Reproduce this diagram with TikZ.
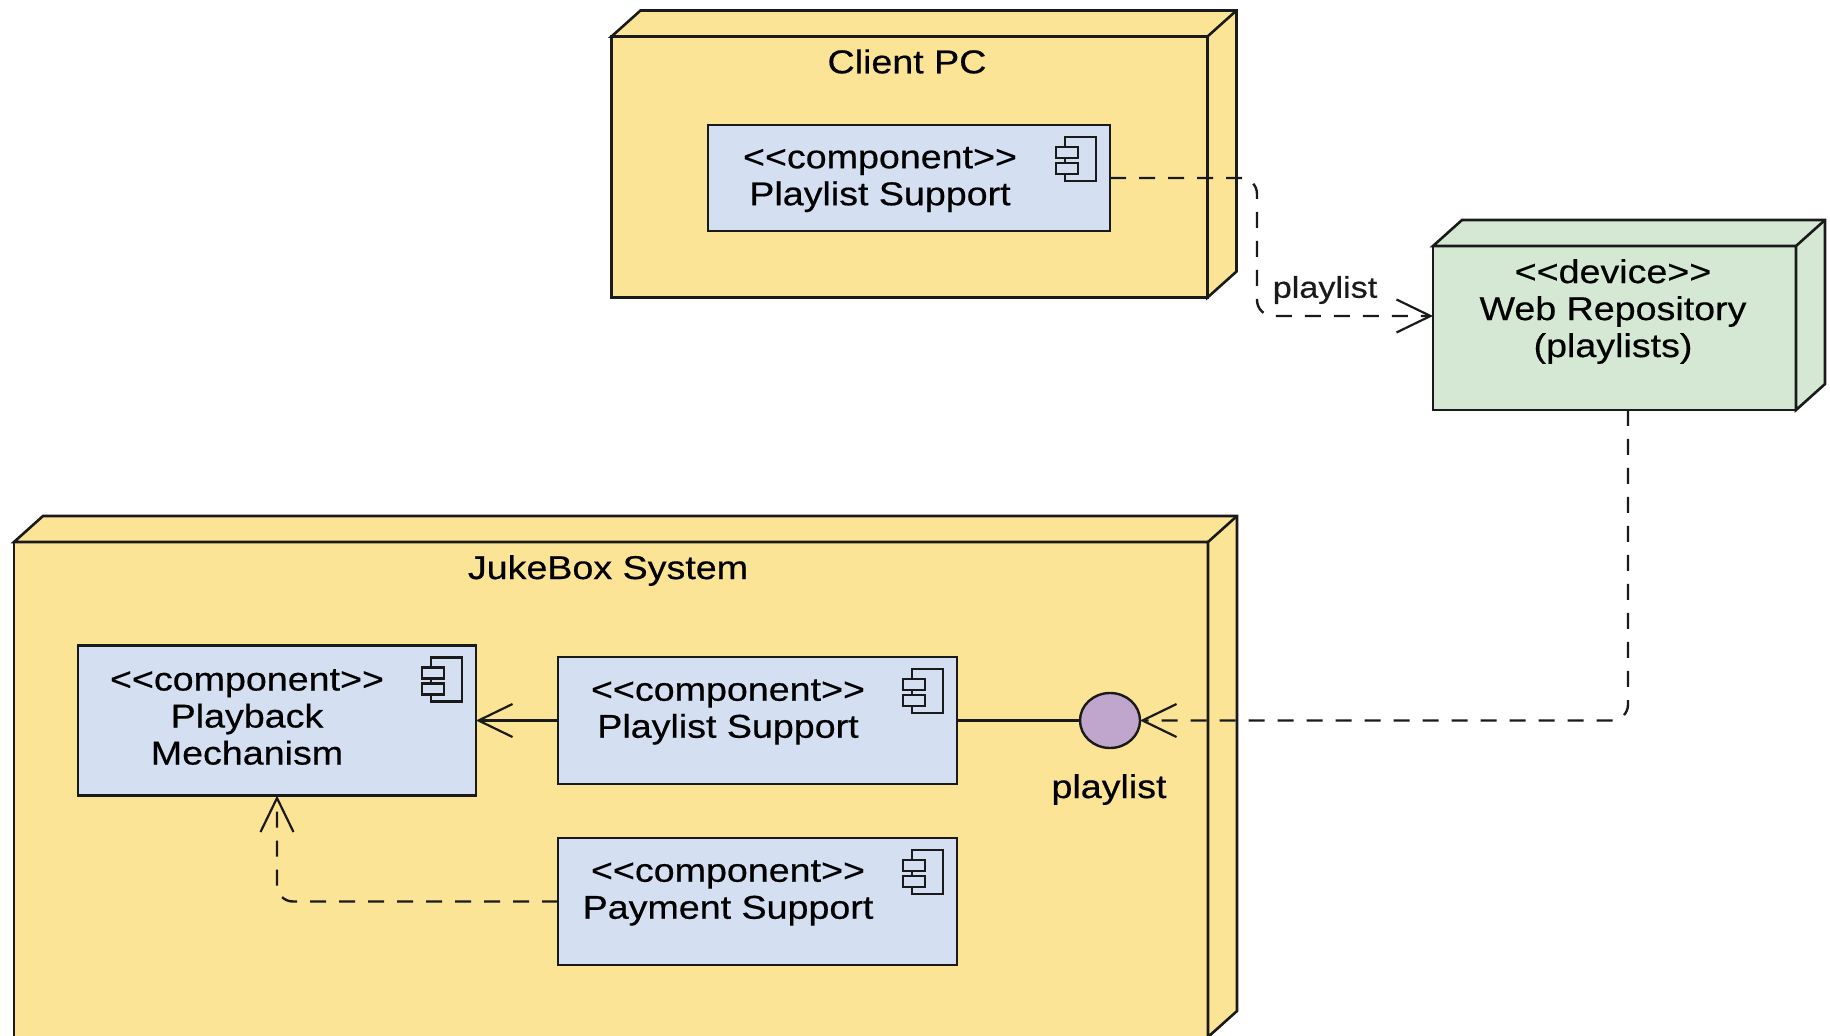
\documentclass[tikz,border=0pt]{standalone}
\usepackage{fontspec}
\setmainfont[FakeStretch=1.14,FakeBold=0.5]{Liberation Sans}
\usetikzlibrary{arrows.meta,calc,shapes.geometric}
\definecolor{nodeyellow}{HTML}{FCE496}
\definecolor{compblue}{HTML}{D4E0F2}
\definecolor{devgreen}{HTML}{D5E8D4}
\definecolor{ifacepurple}{HTML}{C0A5CC}
\definecolor{inkline}{HTML}{1A1A1A}
\tikzset{
  front/.style={draw=inkline,line width=1.3pt,rectangle,inner sep=0pt,outer sep=0pt},
  shell/.style={draw=inkline,line width=1.3pt,line join=miter},
  comp/.style={draw=inkline,line width=1.3pt,fill=compblue,rectangle,inner sep=0pt,outer sep=0pt},
  txt/.style={inner sep=0pt,outer sep=0pt,align=center,text=black,font=\fontsize{16.5}{18.5}\selectfont},
  edgetxt/.style={inner sep=0pt,outer sep=0pt,text=inkline,font=\fontsize{15}{18}\selectfont},
  iconline/.style={draw=inkline,line width=1.1pt},
  barb/.tip={Straight Barb[length=17pt,width=16.5pt,line width=1.1pt]},
  conn/.style={draw=inkline,line width=1.2pt},
  dep/.style={conn,dashed,dash pattern=on 8pt off 6.5pt,rounded corners=8pt,-{barb}},
}
% three-dimensional shell of a UML node, from the front rectangle
\newcommand{\shellof}[2]{%
  \path[shell,fill=#2]
    (#1.north west) -- ++(29,-26) -- ($(#1.north east)+(29,-26)$)
    -- ($(#1.south east)+(29,-26)$) -- (#1.south east) -- (#1.north east) -- cycle;
  \draw[shell] (#1.north east) -- ++(29,-26);}
% component icon in the top right corner of a component box
\newcommand{\iconof}[1]{%
  \draw[iconline,fill=compblue] ($(#1.north east)+(-45,12)$) rectangle ($(#1.north east)+(-14,56)$);
  \draw[iconline,fill=compblue] ($(#1.north east)+(-54,22)$) rectangle ($(#1.north east)+(-32,33)$);
  \draw[iconline,fill=compblue] ($(#1.north east)+(-54,38)$) rectangle ($(#1.north east)+(-32,49)$);}
\begin{document}
\begin{tikzpicture}[x=0.5pt,y=-0.5pt]
\useasboundingbox (0,0) rectangle (1830,1036);

% Client PC
\node[front,fill=nodeyellow,minimum width=298pt,minimum height=130.5pt] (client) at (909.5,167) {};
\shellof{client}{nodeyellow}
\node[txt] (clientlbl) at (907,61.5) {Client PC};
\node[comp,minimum width=201pt,minimum height=53pt] (cps) at (909,178) {};
\iconof{cps}
\node[txt] (cpslbl) at (880,179.5) {<{}<component>{}>\\Playlist Support};

% Web Repository
\node[front,fill=devgreen,minimum width=181.5pt,minimum height=82pt] (web) at (1614.5,328) {};
\shellof{web}{devgreen}
\node[txt] (weblbl) at (1613,311.5) {<{}<device>{}>\\Web Repository\\(playlists)};

% JukeBox System
\node[front,fill=nodeyellow,minimum width=597pt,minimum height=247.5pt] (juke) at (611,789.5) {};
\shellof{juke}{nodeyellow}
\node[txt] (jukelbl) at (608,570.5) {JukeBox System};

\node[comp,minimum width=199pt,minimum height=75pt] (play) at (277,720.5) {};
\iconof{play}
\node[txt] (playlbl) at (247,717) {<{}<component>{}>\\Playback\\Mechanism};

\node[comp,minimum width=199.5pt,minimum height=63.5pt] (jps) at (757.5,720.5) {};
\iconof{jps}
\node[txt] (jpslbl) at (728,712) {<{}<component>{}>\\Playlist Support};

\node[comp,minimum width=199.5pt,minimum height=63.5pt] (pay) at (757.5,901.5) {};
\iconof{pay}
\node[txt] (paylbl) at (728,893) {<{}<component>{}>\\Payment Support};

\node[draw=inkline,line width=1.2pt,fill=ifacepurple,ellipse,inner sep=0pt,outer sep=0pt,minimum width=30pt,minimum height=27.5pt] (iface) at (1110,720.5) {};
\node[txt] (ifacelbl) at (1109,789.5) {playlist};

% connectors
\draw[conn] (jps.east) -- (iface.west);
\draw[conn,-{barb}] (jps.west) -- (play.east);
\coordinate (bendA) at (1257,178);
\coordinate (webin) at (1433,316);
\draw[dep] (cps.east) -- (bendA) -- (bendA |- webin) -- (webin);
\coordinate (webout) at (1628,410);
\draw[dep] (webout) -- (webout |- iface.east) -- (iface.east);
\draw[dep] (pay.west) -- (play.south |- pay.west) -- (play.south);
\node[edgetxt] (edgelbl) at (1325,290) {playlist};
\end{tikzpicture}
\end{document}
